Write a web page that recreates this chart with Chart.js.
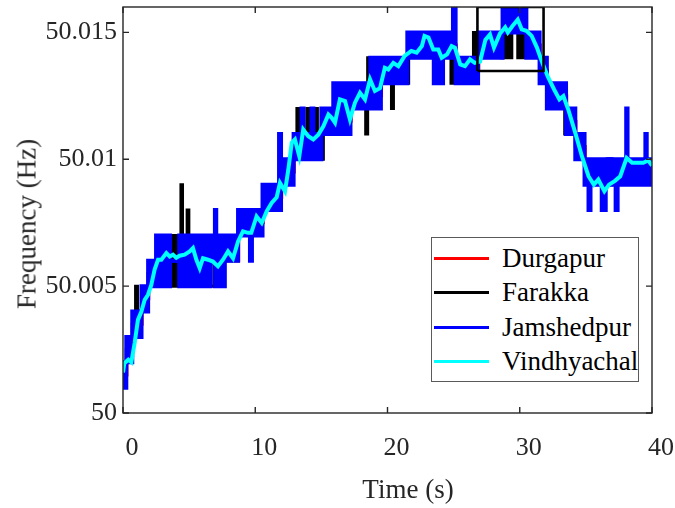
<!DOCTYPE html>
<html>
<head>
<meta charset="utf-8">
<script src="https://cdn.jsdelivr.net/npm/chart.js@4.4.1/dist/chart.umd.min.js"></script>
<style>
  body { margin: 0; background: #fff; }
  #wrap { position: relative; width: 675px; height: 508px; font-family: 'Liberation Serif', 'Times New Roman', serif; }
  canvas { position: absolute; left: 0; top: 0; }
  .ttl { position: absolute; white-space: nowrap; font-size: 27px; line-height: 1; color: #262626; transform: translate(-50%, -50%); }
  #ytitle { left: 27px; top: 224px; transform: translate(-50%, -50%) rotate(-90deg); }
  #xtitle { left: 408px; top: 489px; }
  #legend { position: absolute; left: 431px; top: 237px; width: 208px; height: 145px; box-sizing: border-box; border: 1px solid #5a5a5a; background: #fff; }
  .row { position: absolute; left: 0; height: 34px; display: flex; align-items: center; font-size: 27px; line-height: 1; color: #000; white-space: nowrap; }
  .swatch { width: 55px; height: 3px; margin-left: 2px; margin-right: 13px; }
</style>
</head>
<body>
<div id="wrap">
  <canvas id="grafico" width="675" height="508"></canvas>
  <div class="ttl" id="ytitle">Frequency (Hz)</div>
  <div class="ttl" id="xtitle">Time (s)</div>
  <div id="legend"></div>
</div>
<script>
const seriesNames = ['Durgapur', 'Farakka', 'Jamshedpur', 'Vindhyachal'];
const seriesColors = ['#ff0000', '#000000', '#0000ff', '#00ffff'];

const xTicks = [0, 10, 20, 30, 40];
const xTickLabels = ['0', '10', '20', '30', '40'];
const yTicks = [50, 50.005, 50.01, 50.015];
const yTickLabels = ['50', '50.005', '50.01', '50.015'];

// Durgapur (mostly hidden under the blue band) - [time, Hz], held until next point
const durgapur = [
  [0, 50.0015], [0.3, 50.0025], [0.75, 50.0035], [1.45, 50.0045], [1.95, 50.0055], [2.6, 50.006],
  [8.75, 50.0075], [10.6, 50.0085], [12, 50.0095], [12.95, 50.0105], [15.05, 50.0115], [17.25, 50.0125],
  [19.55, 50.0135], [21.55, 50.0145], [25.2, 50.0135], [26.9, 50.0145], [28.75, 50.015], [30.55, 50.0145],
  [31.55, 50.0135], [32.1, 50.0125], [33.55, 50.0115], [34.25, 50.0105], [34.95, 50.0095], [40, 50.0095]
];

// Farakka - [time, Hz], held until next point
const farakka = [
  [0, 50.0015], [0.25, 50.0025], [0.7, 50.0035], [0.95, 50.005], [1.1, 50.0035], [1.4, 50.0045], [1.9, 50.0055], [2.5, 50.006],
  [3.55, 50.005], [3.65, 50.007], [3.75, 50.005], [3.85, 50.007], [3.95, 50.005], [4.05, 50.007], [4.15, 50.005], [4.25, 50.006],
  [4.38, 50.009], [4.5, 50.006], [4.85, 50.008], [4.98, 50.006], [5.45, 50.005], [5.6, 50.006], [6.65, 50.005], [6.9, 50.006],
  [7.1, 50.005], [7.3, 50.006], [8.7, 50.0075], [10.55, 50.0085], [11.95, 50.0095], [12.9, 50.0105], [13.15, 50.012], [13.3, 50.0105],
  [13.9, 50.012], [14.05, 50.0105], [14.55, 50.012], [14.7, 50.0105], [15.0, 50.01], [15.15, 50.0115], [15.9, 50.012], [17.2, 50.0125],
  [18.35, 50.011], [18.5, 50.014], [18.65, 50.0125], [18.7, 50.013], [19.5, 50.0135], [20.3, 50.012], [20.45, 50.0135], [21.5, 50.013],
  [21.6, 50.015], [21.7, 50.0145], [23.5, 50.014], [24.2, 50.0145], [24.8, 50.013], [24.95, 50.015], [25.1, 50.0135], [26.5, 50.015],
  [26.65, 50.013], [26.85, 50.0145], [28.6, 50.014], [28.7, 50.015], [28.9, 50.014], [29.05, 50.015], [29.25, 50.014], [29.4, 50.015],
  [29.85, 50.014], [30.0, 50.015], [30.15, 50.014], [30.3, 50.015], [30.5, 50.0145], [31.5, 50.0135], [32.05, 50.012], [32.3, 50.0125],
  [33.4, 50.011], [33.8, 50.0115], [34.2, 50.0105], [34.9, 50.0095], [36.65, 50.009], [36.75, 50.01], [36.85, 50.009], [36.95, 50.0095],
  [40, 50.0095]
];

// Jamshedpur toggles fast between two levels: [time, lower Hz, upper Hz], held until next row
const jamshedpur = [
  [0, 50.001, 50.002], [0.25, 50.002, 50.003], [0.7, 50.003, 50.004], [1.4, 50.004, 50.005], [1.9, 50.005, 50.006],
  [2.5, 50.005, 50.007], [3.55, 50.006, 50.006], [4.25, 50.005, 50.007], [5.45, 50.006, 50.007], [5.6, 50.005, 50.007],
  [5.75, 50.006, 50.007], [6.0, 50.005, 50.007], [6.15, 50.006, 50.007], [6.4, 50.005, 50.007], [6.6, 50.006, 50.007],
  [6.95, 50.005, 50.008], [7.05, 50.006, 50.007], [7.35, 50.005, 50.007], [7.7, 50.006, 50.007], [8.7, 50.007, 50.008],
  [9.6, 50.006, 50.008], [9.75, 50.007, 50.008], [10.55, 50.008, 50.009], [11.8, 50.008, 50.011], [11.95, 50.009, 50.010],
  [12.9, 50.010, 50.011], [13.5, 50.010, 50.012], [13.65, 50.010, 50.011], [14.25, 50.010, 50.012], [14.4, 50.010, 50.011],
  [15.0, 50.011, 50.012], [15.9, 50.011, 50.013], [17.2, 50.012, 50.013], [18.7, 50.012, 50.014], [19.5, 50.013, 50.014],
  [21.5, 50.014, 50.015], [23.5, 50.013, 50.015], [24.2, 50.014, 50.015], [24.95, 50.014, 50.016], [25.15, 50.013, 50.014],
  [26.85, 50.014, 50.015], [28.7, 50.015, 50.016], [30.5, 50.014, 50.015], [31.5, 50.013, 50.014], [32.05, 50.012, 50.013],
  [33.5, 50.011, 50.012], [34.2, 50.010, 50.011], [34.9, 50.009, 50.010], [35.2, 50.008, 50.010], [35.35, 50.009, 50.010],
  [36.2, 50.008, 50.010], [36.5, 50.009, 50.010], [36.65, 50.010, 50.010], [36.95, 50.009, 50.010], [37.25, 50.008, 50.010],
  [37.4, 50.009, 50.010], [38.05, 50.009, 50.012], [38.15, 50.009, 50.010], [39.5, 50.009, 50.011], [39.6, 50.009, 50.010],
  [40, 50.009, 50.010]
];

// Vindhyachal
const vindTime = [
  0, 0.1, 0.4, 0.63, 0.88, 1.13, 1.39, 1.64, 1.89, 2.14,
  2.39, 2.65, 2.9, 3.28, 3.53, 3.78, 4.03, 4.28, 4.66, 5.04,
  5.29, 5.55, 5.8, 6.05, 6.43, 6.8, 7.18, 7.56, 7.94, 8.32,
  8.7, 9.07, 9.45, 9.7, 10.1, 10.49, 10.87, 11.24, 11.62, 11.87,
  12.25, 12.5, 12.76, 13.0, 13.33, 13.63, 14.01, 14.39, 14.77, 15.15,
  15.53, 15.78, 16.03, 16.4, 16.79, 17.16, 17.54, 17.92, 18.3, 18.68,
  19.05, 19.43, 19.8, 20.06, 20.44, 20.82, 21.3, 21.8, 22.2, 22.6,
  22.8, 23.1, 23.46, 23.84, 24.1, 24.5, 24.85, 25.1, 25.5, 25.86,
  26.24, 26.6, 27.0, 27.4, 27.75, 28.05, 28.5, 28.9, 29.1, 29.45,
  29.85, 30.15, 30.5, 30.9, 31.3, 31.66, 32.1, 32.6, 33.0, 33.3,
  33.67, 34.2, 34.7, 35.2, 35.6, 35.94, 36.4, 36.75, 37.2, 37.6,
  38.08, 38.5, 39.0, 39.34, 39.72, 40.0
];
const vindFreq = [
  50.0016, 50.00196, 50.0021, 50.002, 50.00276, 50.00367, 50.004, 50.00446, 50.00466, 50.00505,
  50.00565, 50.00604, 50.00604, 50.0063, 50.00617, 50.00624, 50.00612, 50.0062, 50.00624, 50.00637,
  50.0065, 50.00604, 50.00571, 50.0061, 50.00604, 50.00597, 50.00578, 50.00604, 50.00637, 50.0061,
  50.00676, 50.00716, 50.0071, 50.0071, 50.00775, 50.00749, 50.00795, 50.00828, 50.0085, 50.00907,
  50.00874, 50.00959, 50.01065, 50.01078, 50.01012, 50.01117, 50.01091, 50.01078, 50.01097, 50.0113,
  50.01176, 50.01163, 50.01144, 50.01236, 50.01229, 50.01157, 50.01223, 50.01262, 50.01236, 50.01315,
  50.01269, 50.0128, 50.0136, 50.01354, 50.0138, 50.01367, 50.01407, 50.01427, 50.0142, 50.01446,
  50.01486, 50.0148, 50.01433, 50.01433, 50.014, 50.01413, 50.01446, 50.0144, 50.01374, 50.01367,
  50.01394, 50.0138, 50.01385, 50.0147, 50.01492, 50.0144, 50.01495, 50.0152, 50.015, 50.01525,
  50.0155, 50.01512, 50.01506, 50.01486, 50.0144, 50.01387, 50.01328, 50.01275, 50.01236, 50.01249,
  50.01196, 50.01104, 50.01012, 50.00933, 50.009, 50.0092, 50.00874, 50.009, 50.00915, 50.00933,
  50.01005, 50.00986, 50.00986, 50.00986, 50.00995, 50.00975
];

// zoom box drawn in the plot
const boxTime = [26.8, 31.8, 31.8, 26.8, 26.8];
const boxFreq = [50.01348, 50.01348, 50.016, 50.016, 50.01348];

const pares = (pairs, col) => pairs.map(p => ({ x: p[0], y: p[col || 1] }));
const junta = (xs, ys) => xs.map((x, i) => ({ x: x, y: ys[i] }));

Chart.defaults.font.family = "'Liberation Serif', 'Times New Roman', serif";

const frame = {
  id: 'frame',
  afterDatasetsDraw(chart) {
    const { ctx, chartArea: a, scales } = chart;
    ctx.save();
    ctx.strokeStyle = '#262626';
    ctx.lineWidth = 1.4;
    ctx.strokeRect(a.left, a.top, a.right - a.left, a.bottom - a.top);
    ctx.beginPath();
    xTicks.forEach(v => {
      const px = scales.x.getPixelForValue(v);
      ctx.moveTo(px, a.bottom); ctx.lineTo(px, a.bottom - 6);
      ctx.moveTo(px, a.top); ctx.lineTo(px, a.top + 6);
    });
    yTicks.forEach(v => {
      const py = scales.y.getPixelForValue(v);
      ctx.moveTo(a.left, py); ctx.lineTo(a.left + 6, py);
      ctx.moveTo(a.right, py); ctx.lineTo(a.right - 6, py);
    });
    ctx.stroke();
    ctx.restore();
  }
};

const linha = { pointRadius: 0, fill: false, borderCapStyle: 'butt', borderJoinStyle: 'miter' };

const grafico = new Chart(document.getElementById('grafico').getContext('2d'), {
  type: 'line',
  data: {
    datasets: [
      Object.assign({}, linha, { label: seriesNames[0], data: pares(durgapur), borderColor: seriesColors[0], borderWidth: 3, stepped: 'before', order: 6 }),
      Object.assign({}, linha, { label: seriesNames[1], data: pares(farakka), borderColor: seriesColors[1], borderWidth: 3, stepped: 'before', order: 5 }),
      Object.assign({}, linha, { label: seriesNames[2], data: pares(jamshedpur, 2), borderColor: seriesColors[2], backgroundColor: seriesColors[2], borderWidth: 4, stepped: 'before', fill: '+1', order: 4 }),
      Object.assign({}, linha, { label: 'jamLow', data: pares(jamshedpur, 1), borderColor: seriesColors[2], borderWidth: 4, stepped: 'before', order: 4 }),
      Object.assign({}, linha, { label: seriesNames[3], data: junta(vindTime, vindFreq), borderColor: seriesColors[3], borderWidth: 4, order: 2 }),
      Object.assign({}, linha, { label: 'box', data: junta(boxTime, boxFreq), borderColor: '#000000', borderWidth: 2.6, order: 1 })
    ]
  },
  options: {
    responsive: false,
    animation: false,
    devicePixelRatio: 1,
    layout: { padding: { top: 7, right: 23, left: 0, bottom: 0 } },
    plugins: { legend: { display: false }, tooltip: { enabled: false } },
    scales: {
      x: {
        type: 'linear', min: 0, max: 40,
        grid: { display: false, drawTicks: false },
        border: { display: false },
        afterBuildTicks: s => { s.ticks = xTicks.map(v => ({ value: v })); },
        afterFit: s => { s.height = 95; s.paddingLeft = 0; s.paddingRight = 0; },
        ticks: {
          autoSkip: false, maxRotation: 0, padding: 20, labelOffset: 9,
          color: '#262626', font: { size: 26 },
          callback: (v, i) => xTickLabels[i]
        }
      },
      y: {
        type: 'linear', min: 50, max: 50.016,
        grid: { display: false, drawTicks: false },
        border: { display: false },
        afterBuildTicks: s => { s.ticks = yTicks.map(v => ({ value: v })); },
        afterFit: s => { s.width = 123; s.paddingTop = 0; s.paddingBottom = 0; },
        ticks: {
          autoSkip: false, padding: 6,
          color: '#262626', font: { size: 26 },
          callback: (v, i) => yTickLabels[i]
        }
      }
    }
  },
  plugins: [frame]
});

// legend inside the plot, bottom right
const legenda = document.getElementById('legend');
seriesNames.forEach((nome, i) => {
  const row = document.createElement('div');
  row.className = 'row';
  row.style.top = (3 + i * 34.5) + 'px';
  row.innerHTML = '<span class="swatch" style="background:' + seriesColors[i] + '"></span><span>' + nome + '</span>';
  legenda.appendChild(row);
});
</script>
</body>
</html>
